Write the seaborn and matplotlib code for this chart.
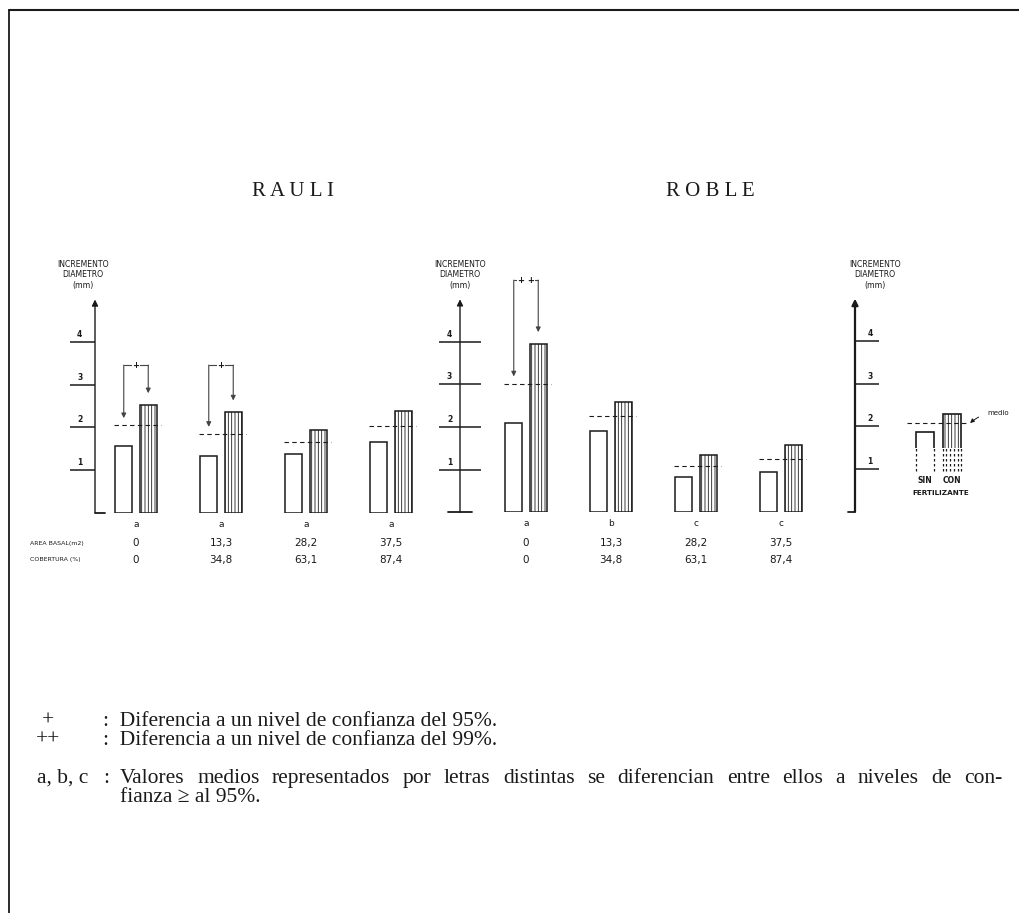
"""
Incremento en diametro de Rauli y Roble segun area basal / cobertura,
sin y con fertilizante.
"""

import matplotlib
matplotlib.use('Agg')
import matplotlib.pyplot as plt
from matplotlib.lines import Line2D
from matplotlib.patches import Rectangle
import seaborn as sns
import numpy as np
import pandas as pd

sns.set_theme(style='white')
plt.rcParams['font.family'] = ['DejaVu Sans']
plt.rcParams['hatch.linewidth'] = 0.6

# --- datos ---
grupos = ['0', '13,3', '28,2', '37,5']          # area basal (m2)
cobertura = ['0', '34,8', '63,1', '87,4']       # cobertura (%)
cobertura_roble = ['0', '34,8', '63,1', '87,4']
fertilizacion = ['SIN', 'CON']

rauli_sin = [1.57, 1.33, 1.37, 1.66]
rauli_con = [2.52, 2.35, 1.93, 2.38]
rauli_letras = ['a', 'a', 'a', 'a']
rauli_signif = ['+', '+', '', '']

roble_sin = [2.09, 1.91, 0.84, 0.94]
roble_con = [3.95, 2.59, 1.35, 1.57]
roble_letras = ['a', 'b', 'c', 'c']
roble_signif = ['+ +', '', '', '']

ejemplo = [1.87, 2.29]   # panel explicativo: sin, con

y_ticks = [1, 2, 3, 4]

W, H = 1020, 913
TINTA = '#1a1a1a'
SERIF = ['Liberation Serif', 'DejaVu Serif']

fig = plt.figure(figsize=(W / 100, H / 100), dpi=100)
fig.patch.set_facecolor('white')


def fx(px):
    return px / W


def fy(py):
    return 1 - py / H


def ejes_px(left, right, base, top):
    return fig.add_axes([left / W, 1 - base / H, (right - left) / W, (base - top) / H])


def eje_y(ax, direccion, largo, dx, lw=1.0):
    """Eje vertical con flecha y marcas de 1 a 4."""
    for s in ax.spines.values():
        s.set_visible(False)
    ax.set_facecolor('none')
    ax.set_ylim(0, 5)
    ax.set_xticks([])
    ax.set_yticks(y_ticks)
    ax.set_yticklabels([])
    ax.set_xlabel('')
    ax.set_ylabel('')
    ax.tick_params(axis='y', left=True, direction=direccion, length=largo,
                   width=1.1, color=TINTA)
    ax.annotate('', xy=(0, 1), xytext=(0, 0), xycoords='axes fraction',
                arrowprops=dict(arrowstyle='-|>', lw=lw, color=TINTA,
                                mutation_scale=9, shrinkA=0, shrinkB=0),
                annotation_clip=False)
    for t in y_ticks:
        ax.annotate(str(t), xy=(0, t), xycoords=('axes fraction', 'data'),
                    xytext=(dx, 5.5), textcoords='offset points',
                    ha='center', va='center', fontsize=5.5, fontweight='bold',
                    color=TINTA, annotation_clip=False)


def dibujar_panel(ax, sin, con, letras, signif, cob, y_corchete,
                  direccion, largo, dx, base):
    df = pd.DataFrame({
        'grupo': grupos * 2,
        'fert': ['SIN'] * len(grupos) + ['CON'] * len(grupos),
        'incremento': sin + con,
    })
    sns.barplot(data=df, x='grupo', y='incremento', hue='fert',
                hue_order=fertilizacion, palette={'SIN': 'white', 'CON': 'white'},
                edgecolor=TINTA, linewidth=1.1, width=0.576, gap=0.286,
                saturation=1, errorbar=None, legend=False, ax=ax)
    for p in ax.patches:
        centro = p.get_x() + p.get_width() / 2
        if centro > round(centro):
            p.set_hatch('|||||')

    x = np.arange(len(grupos))
    medias = (np.array(sin) + np.array(con)) / 2
    ax.hlines(medias, x - 0.26, x + 0.30, colors=TINTA, linestyles=(0, (4, 3)),
              lw=0.8, zorder=4)

    for i, s in enumerate(signif):
        if not s:
            continue
        xl, xr = i - 0.144, i + 0.144
        for xa, tip in ((xl, medias[i] + 0.17), (xr, con[i] + 0.28)):
            ax.annotate('', xy=(xa, tip), xytext=(xa, y_corchete),
                        arrowprops=dict(arrowstyle='-|>', lw=0.8, color='#444',
                                        mutation_scale=7, shrinkA=0, shrinkB=0),
                        annotation_clip=False)
        ax.plot([xl, xr], [y_corchete, y_corchete], color='#444', lw=0.8,
                clip_on=False)
        ax.text(i, y_corchete, s, ha='center', va='center', fontsize=6,
                fontweight='bold', color=TINTA,
                bbox=dict(facecolor='white', edgecolor='none', pad=0.3))

    for i in x:
        ax.text(i, -0.27, letras[i], ha='center', va='center', fontsize=6.5,
                color=TINTA)
        ax.text(i, -0.72, grupos[i], ha='center', va='center', fontsize=7.5,
                color=TINTA)
        ax.text(i, -1.12, cob[i], ha='center', va='center', fontsize=7.5,
                color=TINTA)

    eje_y(ax, direccion, largo, dx)
    ax.plot(base, [0, 0], color=TINTA, lw=1.3, transform=ax.transAxes,
            clip_on=False)


# --- RAULI ---
ax_rauli = ejes_px(95, 430, 512.5, 299.5)
dibujar_panel(ax_rauli, rauli_sin, rauli_con, rauli_letras, rauli_signif,
              cobertura, 3.46, 'out', 18, -11, [0, 0.03])
ax_rauli.set_xlim(-41 / 85, (430 - 136) / 85)

# --- ROBLE ---
ax_roble = ejes_px(460, 830, 512.3, 299.3)
dibujar_panel(ax_roble, roble_sin, roble_con, roble_letras, roble_signif,
              cobertura_roble, 5.45, 'inout', 30, -7.5, [-0.033, 0.033])
ax_roble.set_xlim((460 - 526) / 85, (830 - 526) / 85)

# --- panel explicativo ---
ax_ej = ejes_px(855, 1015, 511.7, 298.7)
df_ej = pd.DataFrame({'fert': fertilizacion, 'incremento': ejemplo})
sns.barplot(data=df_ej, x='fert', y='incremento', hue='fert',
            palette={'SIN': 'white', 'CON': 'white'}, edgecolor=TINTA,
            linewidth=1.2, width=0.7, saturation=1, errorbar=None,
            legend=False, ax=ax_ej)
corte = 1.5
clip = Rectangle((-10, corte), 20, 10, transform=ax_ej.transData)
for p in ax_ej.patches:
    p.set_clip_path(clip)
    centro = p.get_x() + p.get_width() / 2
    if centro > 0.5:
        p.set_hatch('|||||')
        xs = np.linspace(p.get_x(), p.get_x() + p.get_width(), 6)
    else:
        xs = [p.get_x(), p.get_x() + p.get_width()]
    ax_ej.vlines(xs, 0.95, corte, colors=TINTA, linestyles=(0, (2, 2)), lw=0.9)
ax_ej.hlines(np.mean(ejemplo), -0.67, 1.56, colors=TINTA,
             linestyles=(0, (4, 3)), lw=0.8, zorder=4)
ax_ej.annotate('medio', xy=(1.67, np.mean(ejemplo)), xytext=(2.7, 2.32),
               fontsize=5, color=TINTA, ha='center', va='center',
               arrowprops=dict(arrowstyle='-|>', lw=0.7, color=TINTA,
                               mutation_scale=6, shrinkA=4, shrinkB=0,
                               connectionstyle='arc3,rad=0.2'),
               annotation_clip=False)
ax_ej.text(0, 0.74, 'SIN', ha='center', va='center', fontsize=5.5,
           fontweight='bold', color=TINTA)
ax_ej.text(1, 0.74, 'CON', ha='center', va='center', fontsize=5.5,
           fontweight='bold', color=TINTA)
ax_ej.text(0.6, 0.45, 'FERTILIZANTE', ha='center', va='center', fontsize=5.2,
           fontweight='bold', color=TINTA)
eje_y(ax_ej, 'in', 17.5, 11, lw=1.6)
ax_ej.plot([-0.045, 0], [0, 0], color=TINTA, lw=1.3, transform=ax_ej.transAxes,
           clip_on=False)
ax_ej.set_xlim((855 - 925) / 27, (1015 - 925) / 27)

# --- titulos de eje ---
for xp in (83, 460, 875):
    fig.text(fx(xp), fy(290), 'INCREMENTO\nDIAMETRO\n(mm)', ha='center',
             va='bottom', fontsize=5.6, linespacing=1.25, color=TINTA)

fig.text(fx(30), fy(543), 'AREA BASAL(m2)', ha='left', va='center',
         fontsize=4.5, color=TINTA)
fig.text(fx(30), fy(560), 'COBERTURA (%)', ha='left', va='center',
         fontsize=4.5, color=TINTA)

# --- titulos de especie ---
fig.text(fx(293), fy(191), 'R A U L I', ha='center', va='center',
         fontsize=15, family=SERIF, color=TINTA)
fig.text(fx(710), fy(191), 'R O B L E', ha='center', va='center',
         fontsize=15, family=SERIF, color=TINTA)

# --- notas ---
nota = dict(fontsize=15.5, family=SERIF, color=TINTA, va='baseline')
fig.text(fx(48), fy(726), '+', ha='center', **nota)
fig.text(fx(103), fy(726), ':  Diferencia a un nivel de confianza del 95%.',
         ha='left', **nota)
fig.text(fx(48), fy(745), '++', ha='center', **nota)
fig.text(fx(103), fy(745), ':  Diferencia a un nivel de confianza del 99%.',
         ha='left', **nota)
fig.text(fx(37), fy(783), 'a, b, c', ha='left', **nota)
fig.text(fx(103), fy(783), ':', ha='left', **nota)


def texto_justificado(texto, x0, x1, y, **kw):
    """Reparte las palabras entre x0 y x1 (pixeles)."""
    palabras = texto.split(' ')
    renderer = fig.canvas.get_renderer()
    objs = [fig.text(0, fy(y), p, ha='left', **kw) for p in palabras]
    anchos = [o.get_window_extent(renderer).width for o in objs]
    paso = ((x1 - x0) - sum(anchos)) / (len(palabras) - 1)
    x = x0
    for o, a in zip(objs, anchos):
        o.set_x(fx(x))
        x += a + paso


texto_justificado('Valores medios representados por letras distintas se '
                  'diferencian entre ellos a niveles de con-', 120, 1002, 783,
                  **nota)
fig.text(fx(120), fy(802), 'fianza \u2265 al 95%.', ha='left', **nota)

# --- marco ---
fig.add_artist(Line2D([fx(9), fx(9)], [fy(10), 0], color=TINTA, lw=1.3))
fig.add_artist(Line2D([fx(9), 1], [fy(10), fy(10)], color=TINTA, lw=1.5))

fig.savefig('out.png', dpi=100, facecolor='white')
plt.close(fig)
